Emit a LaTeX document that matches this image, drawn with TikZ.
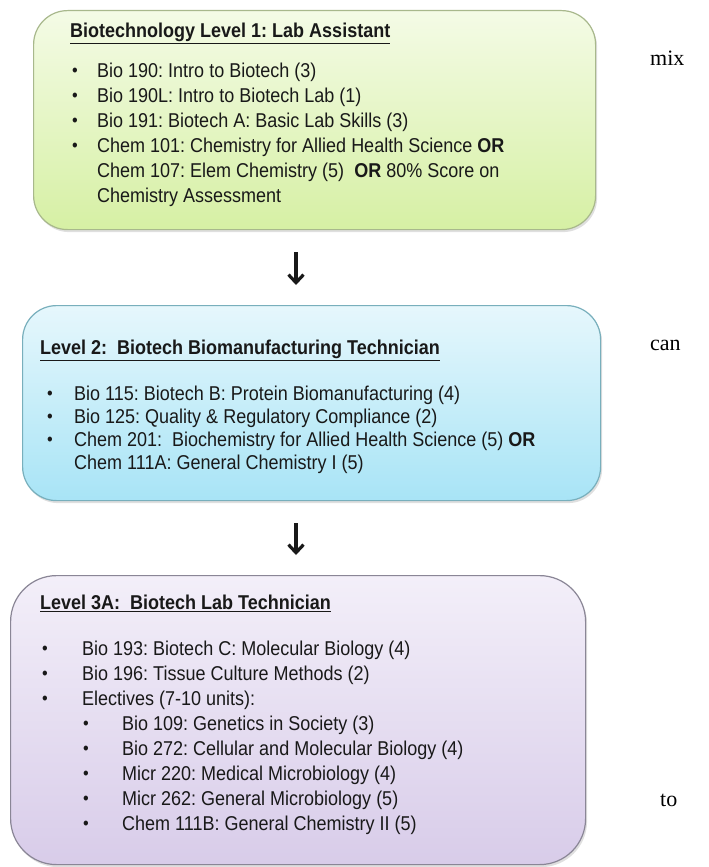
\documentclass[tikz,border=0pt]{standalone}
\usepackage{fontspec}
\usetikzlibrary{shadows,arrows.meta}
\newfontfamily\bodyfont{Liberation Sans}[FakeStretch=0.9]
\newfontfamily\sidefont{Liberation Serif}
\frenchspacing
\definecolor{gtop}{RGB}{244,251,230}
\definecolor{gbot}{RGB}{214,240,164}
\definecolor{gline}{RGB}{168,184,140}
\definecolor{ctop}{RGB}{230,247,252}
\definecolor{cbot}{RGB}{168,228,246}
\definecolor{cline}{RGB}{120,175,188}
\definecolor{ptop}{RGB}{243,239,249}
\definecolor{pbot}{RGB}{216,204,233}
\definecolor{pline}{RGB}{138,134,150}
\definecolor{ink}{RGB}{25,25,25}
\tikzset{
  lvlbox/.style={draw, line width=1.2pt, inner sep=0pt, anchor=north west,
    drop shadow={opacity=0.25, shadow xshift=1.5pt, shadow yshift=-2.5pt}},
  txt/.style={anchor=west, inner sep=0pt, text=ink, font=\bodyfont\frenchspacing\fontsize{20}{24}\selectfont},
  ttl/.style={anchor=west, inner sep=0pt, text=ink, font=\bodyfont\frenchspacing\bfseries\fontsize{20}{24}\selectfont},
  bul/.style={anchor=center, inner sep=0pt, text=ink, font=\bodyfont\fontsize{18}{20}\selectfont},
  side/.style={anchor=west, inner sep=0pt, font=\sidefont\fontsize{22}{26}\selectfont},
  flow/.style={-{Straight Barb[length=8pt,width=15pt,line width=3.2pt]}, line width=3.2pt, draw=ink}
}
\newcommand\itm[5]{\node[bul] (#1d) at (#2,#4) {•};\node[txt] (#1) at (#3,#4) {#5};}
\newcommand\cont[4]{\node[txt] (#1) at (#2,#3) {#4};}
\begin{document}
\begin{tikzpicture}[x=1pt,y=-1pt]
\useasboundingbox (0,0) rectangle (709,867);
\fill[white] (0,0) rectangle (709,867);
% boxes
\node[lvlbox, rounded corners=34pt, draw=gline, top color=gtop, bottom color=gbot,
  minimum width=562pt, minimum height=219pt] (b1) at (33,10) {};
\node[lvlbox, rounded corners=34pt, draw=cline, top color=ctop, bottom color=cbot,
  minimum width=578pt, minimum height=195pt] (b2) at (22,305) {};
\node[lvlbox, rounded corners=46pt, draw=pline, top color=ptop, bottom color=pbot,
  minimum width=575pt, minimum height=289pt] (b3) at (10,575) {};
% box 1 text
\node[ttl] (t1) at (70,33) {\underline{Biotechnology Level 1: Lab Assistant}};
\itm{a1}{75}{97}{72}{Bio 190: Intro to Biotech (3)}
\itm{a2}{75}{97}{97}{Bio 190L: Intro to Biotech Lab (1)}
\itm{a3}{75}{97}{122}{Bio 191: Biotech A: Basic Lab Skills (3)}
\itm{a4}{75}{97}{147}{Chem 101: Chemistry for Allied Health Science \textbf{OR}}
\cont{a5}{97}{172}{Chem 107: Elem Chemistry (5)\ \ \textbf{OR} 80\% Score on}
\cont{a6}{97}{197}{Chemistry Assessment}
% box 2 text
\node[ttl] (t2) at (40,350) {\underline{Level 2:\ \ Biotech Biomanufacturing Technician}};
\itm{c1}{50}{74}{395}{Bio 115: Biotech B: Protein Biomanufacturing (4)}
\itm{c2}{50}{74}{418}{Bio 125: Quality \& Regulatory Compliance (2)}
\itm{c3}{50}{74}{441}{Chem 201:\ \ Biochemistry for Allied Health Science (5) \textbf{OR}}
\cont{c4}{74}{464}{Chem 111A: General Chemistry I (5)}
% box 3 text
\node[ttl] (t3) at (40,603) {\underline{Level 3A:\ \ Biotech Lab Technician}};
\itm{e1}{45}{82}{650}{Bio 193: Biotech C: Molecular Biology (4)}
\itm{e2}{45}{82}{675}{Bio 196: Tissue Culture Methods (2)}
\itm{e3}{45}{82}{700}{Electives (7-10 units):}
\itm{e4}{86}{122}{725}{Bio 109: Genetics in Society (3)}
\itm{e5}{86}{122}{750}{Bio 272: Cellular and Molecular Biology (4)}
\itm{e6}{86}{122}{775}{Micr 220: Medical Microbiology (4)}
\itm{e7}{86}{122}{800}{Micr 262: General Microbiology (5)}
\itm{e8}{86}{122}{825}{Chem 111B: General Chemistry II (5)}
% arrows
\coordinate (ax) at (296,0);
\draw[flow, shorten <=22pt, shorten >=20pt] (b1.south -| ax) -- (b2.north -| ax);
\draw[flow, shorten <=22pt, shorten >=20pt] (b2.south -| ax) -- (b3.north -| ax);
% side words
\node[side] (s1) at (650,58) {mix};
\node[side] (s2) at (650,345) {can};
\node[side] (s3) at (660,800) {to};
\end{tikzpicture}
\end{document}
